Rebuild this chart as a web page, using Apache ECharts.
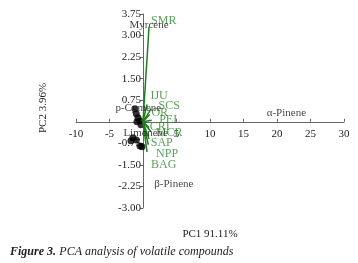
<!DOCTYPE html>
<html>
<head>
<meta charset="utf-8">
<script src="https://cdn.jsdelivr.net/npm/echarts@6/dist/echarts.min.js"></script>
<style>
  html, body { margin: 0; padding: 0; background: #fff; }
  #chart { width: 358px; height: 263px; }
</style>
</head>
<body>
<div id="chart"></div>
<script>
// sample scores (black points)
const scoreX = [-1.0, -0.75, -0.45, -0.9, -0.3, -1.5, -1.8, -1.0, -0.45, -0.15, -1.2];
const scoreY = [0.28, 0.14, 0.03, 0.0, -0.1, -0.56, -0.66, -0.63, -0.84, -0.87, 0.45];

// compound labels (black text)
const compoundNames = ["Myrcene", "p-Cymene", "Limonene", "α-Pinene", "β-Pinene"];
const compoundX = [0.9, -0.7, 0.4, 21.4, 4.6];
const compoundY = [3.36, 0.49, -0.38, 0.31, -2.16];

// loading vectors (green)
const vectorNames = ["SMR", "IJU", "SCS", "OR", "PEL", "CRI", "MCR", "SAP", "NPP", "BAG"];
const vectorX = [0.9, 0.6, 1.2, 1.0, 1.3, 0.9, 1.2, 0.9, 0.8, 0.6];
const vectorY = [3.31, 0.6, 0.45, 0.25, 0.05, -0.2, -0.35, -0.6, -0.8, -1.05];
const vectorLabelX = [3.1, 2.4, 3.9, 2.5, 4.0, 2.5, 3.9, 2.8, 3.6, 3.1];
const vectorLabelY = [3.52, 0.91, 0.56, 0.31, 0.07, -0.17, -0.38, -0.73, -1.1, -1.5];

const xTicks = { min: -10, max: 30, interval: 5 };
const yTicks = { min: -3, max: 3.75, interval: 0.75 };

const gridLeft = 76, gridRight = 14, gridTop = 14, gridBottom = 55;
const W = 358, H = 263;
// move axes so they cross at the origin
const plotW = W - gridLeft - gridRight;
const plotH = H - gridTop - gridBottom;
const yAxisOffset = -(0 - xTicks.min) / (xTicks.max - xTicks.min) * plotW;
const xAxisOffset = -(0 - yTicks.min) / (yTicks.max - yTicks.min) * plotH;

const chart = echarts.init(document.getElementById("chart"));
const serif = "'Liberation Serif', 'DejaVu Serif', serif";
const green = "#2f8a2f";

const series = [];

// vectors from origin
vectorNames.forEach((name, i) => {
  series.push({
    type: "line",
    data: [[0, 0], [vectorX[i], vectorY[i]]],
    showSymbol: false,
    lineStyle: { color: "#1f7f1f", width: 1.5 },
    silent: true,
    z: 3,
  });
});

series.push({
  type: "scatter",
  data: vectorNames.map((n, i) => [vectorLabelX[i], vectorLabelY[i], n]),
  symbolSize: 0,
  label: {
    show: true,
    position: "inside",
    formatter: (p) => p.value[2],
    color: green,
    fontFamily: serif,
    fontSize: 12,
  },
  z: 4,
});

series.push({
  type: "scatter",
  data: compoundNames.map((n, i) => [compoundX[i], compoundY[i], n]),
  symbolSize: 0,
  label: {
    show: true,
    position: "inside",
    formatter: (p) => p.value[2],
    color: "#111",
    fontFamily: serif,
    fontSize: 11,
  },
  z: 5,
});

series.push({
  type: "scatter",
  data: scoreX.map((x, i) => [x, scoreY[i]]),
  symbolSize: 7,
  itemStyle: { color: "#000" },
  z: 2,
});

const axisLineStyle = { color: "#666", width: 1 };

chart.setOption({
  animation: false,
  grid: { left: gridLeft, right: gridRight, top: gridTop, bottom: gridBottom },
  xAxis: {
    type: "value",
    min: xTicks.min,
    max: xTicks.max,
    interval: xTicks.interval,
    offset: xAxisOffset,
    axisLine: { show: true, onZero: false, lineStyle: axisLineStyle },
    axisTick: { show: true, inside: true, length: 3, lineStyle: axisLineStyle },
    splitLine: { show: false },
    axisLabel: {
      color: "#222",
      fontFamily: serif,
      fontSize: 11,
      margin: 7,
      formatter: (v) => (v === 0 ? "" : String(v)),
    },
  },
  yAxis: {
    type: "value",
    min: yTicks.min,
    max: yTicks.max,
    interval: yTicks.interval,
    offset: yAxisOffset,
    axisLine: { show: true, onZero: false, lineStyle: axisLineStyle },
    axisTick: { show: true, length: 3, lineStyle: axisLineStyle },
    splitLine: { show: false },
    axisLabel: {
      color: "#222",
      fontFamily: serif,
      fontSize: 11,
      margin: 2,
      formatter: (v) => (Math.abs(v) < 1e-9 ? "" : v.toFixed(2)),
    },
  },
  graphic: [
    {
      type: "text",
      x: 43,
      y: 108,
      rotation: Math.PI / 2,
      style: {
        text: "PC2 3.96%",
        font: "11px " + serif,
        fill: "#222",
        align: "center",
        verticalAlign: "middle",
      },
    },
    {
      type: "text",
      x: 210,
      y: 234,
      style: {
        text: "PC1 91.11%",
        font: "11px " + serif,
        fill: "#222",
        align: "center",
        verticalAlign: "middle",
      },
    },
    {
      type: "text",
      x: 10,
      y: 252,
      style: {
        rich: {
          b: { fontFamily: serif, fontSize: 12, fontWeight: "bold", fontStyle: "italic", fill: "#222" },
          i: { fontFamily: serif, fontSize: 12, fontStyle: "italic", fill: "#222" },
        },
        text: "{b|Figure 3.} {i|PCA analysis of volatile compounds}",
        verticalAlign: "middle",
      },
    },
  ],
  series,
});
</script>
</body>
</html>
